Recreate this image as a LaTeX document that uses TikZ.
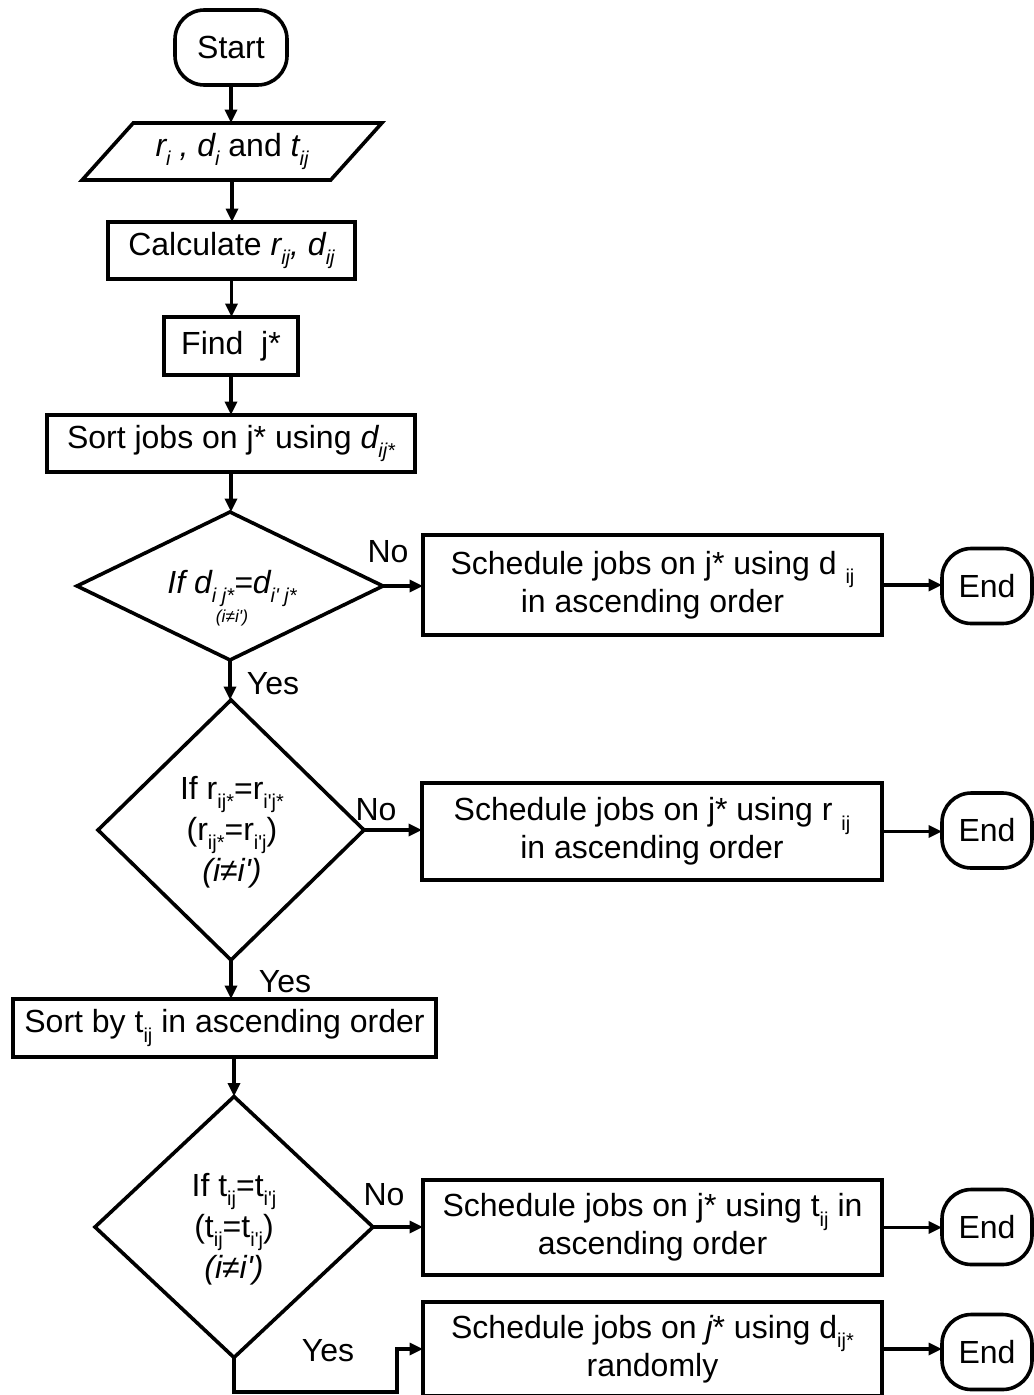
\documentclass[tikz,border=0pt]{standalone}
\usepackage{fontspec}
\setmainfont{Liberation Sans}
\usetikzlibrary{shapes.geometric,arrows.meta}
\newcommand\sbs[1]{\raisebox{-0.3em}{\fontsize{15}{15}\selectfont #1}}
\newcommand\pr{\textquotesingle}
\begin{document}
\begin{tikzpicture}[x=0.75pt,y=-0.75pt,
  every node/.style={font=\fontsize{24}{28.8}\selectfont, inner sep=0pt, outer sep=0pt},
  box/.style={draw, line width=2.7pt, rectangle},
  term/.style={draw, line width=2.7pt, rectangle, rounded corners=22pt},
  dec/.style={draw, line width=2.7pt, diamond},
  arr/.style={line width=2.4pt, -{Triangle[length=10pt,width=9pt]}}
]
\fill[white] (0,0) rectangle (1034,1395);
\useasboundingbox (0,0) rectangle (1034,1395);

% main column
\node[term, minimum width=84pt, minimum height=56.25pt] (start) at (231,47.5) {Start};
\node[draw, line width=2.7pt, trapezium, trapezium left angle=43, trapezium right angle=137,
      trapezium stretches=true, minimum width=225pt, minimum height=42.75pt] (inp) at (232,151.5)
      {\raisebox{-3pt}{{\itshape r\sbs{i} , d\sbs{i}} and {\itshape t\sbs{ij}}}};
\node[box, minimum width=185.25pt, minimum height=42.75pt] (calc) at (231.5,250.5) {Calculate {\itshape r\sbs{ij}, d\sbs{ij}}};
\node[box, minimum width=100.5pt, minimum height=43.5pt] (find) at (231,346) {Find\ \ j*};
\node[box, minimum width=276pt, minimum height=42.75pt] (sort1) at (231,443.5) {Sort jobs on j* using {\itshape d\sbs{ij*}}};

\node[dec, minimum width=229.5pt, minimum height=111pt] (dia1) at (230,586) {};
\node[align=center] (dia1t) at (232,598) {\itshape If d\sbs{i j*}=d\sbs{i\pr{} j*}\\[-7pt]{\fontsize{13}{15}\selectfont\itshape (i≠i\pr)}};

\node[dec, minimum width=199.5pt, minimum height=195pt] (dia2) at (231,830) {};
\node[align=center] (dia2t) at (232,832) {If r\sbs{ij*}=r\sbs{i\pr j*}\\[2pt](r\sbs{ij*}=r\sbs{i\pr j})\\[2pt]{\itshape (i≠i\pr)}};

\node[box, minimum width=317.25pt, minimum height=43.5pt] (sort2) at (224.5,1028) {Sort by t\sbs{ij} in ascending order};

\node[dec, minimum width=208.5pt, minimum height=195.75pt] (dia3) at (234,1227) {};
\node[align=center] (dia3t) at (234,1229) {If t\sbs{ij}=t\sbs{i\pr j}\\[2pt](t\sbs{ij}=t\sbs{i\pr j})\\[2pt]{\itshape (i≠i\pr)}};

% right column
\node[box, minimum width=344.25pt, minimum height=75pt, align=center] (box1) at (652.5,585) {Schedule jobs on j* using d \sbs{ij}\\in ascending order};
\node[box, minimum width=345pt, minimum height=72.75pt, align=center] (box2) at (652,831.5) {Schedule jobs on j* using r \sbs{ij}\\in ascending order};
\node[box, minimum width=344.25pt, minimum height=71.25pt, align=center] (box3) at (652.5,1227.5) {Schedule jobs on j* using t\sbs{ij} in\\ascending order};
\node[box, minimum width=344.25pt, minimum height=70.5pt, align=center] (box4) at (652.5,1349) {Schedule jobs on {\itshape j}* using d\sbs{ij*}\\randomly};

\node[term, minimum width=67.5pt, minimum height=56.25pt] (end1) at (987,586) {End};
\node[term, minimum width=67.5pt, minimum height=56.25pt] (end2) at (987,830.5) {End};
\node[term, minimum width=67.5pt, minimum height=56.25pt] (end3) at (987,1227) {End};
\node[term, minimum width=67.5pt, minimum height=56.25pt] (end4) at (987,1352) {End};

% labels
\node (no1) at (388,552) {No};
\node (no2) at (376,810) {No};
\node (no3) at (384,1195) {No};
\node (yes1) at (273,684) {Yes};
\node (yes2) at (285,982) {Yes};
\node (yes3) at (328,1351) {Yes};

% connectors
\draw[arr] (start.south) -- (start.south |- inp.north);
\draw[arr] (inp.south) -- (inp.south |- calc.north);
\draw[arr] (calc.south) -- (calc.south |- find.north);
\draw[arr] (find.south) -- (find.south |- sort1.north);
\draw[arr] (sort1.south) -- (sort1.south |- dia1.north);
\draw[arr] (dia1.south) -- (dia1.south |- dia2.north);
\draw[arr] (dia2.south) -- (dia2.south |- sort2.north);
\draw[arr] (sort2.south -| dia3.north) -- (dia3.north);

\draw[arr] (dia1.east) -- (dia1.east -| box1.west);
\draw[arr] (dia2.east) -- (dia2.east -| box2.west);
\draw[arr] (dia3.east) -- (dia3.east -| box3.west);
\draw[arr] (box1.east) -- (box1.east -| end1.west);
\draw[arr] (box2.east) -- (box2.east -| end2.west);
\draw[arr] (box3.east) -- (box3.east -| end3.west);
\draw[arr] (box4.east) -- (box4.east -| end4.west);

\coordinate (ybot) at (233,1392);
\coordinate (yturn) at (397,1392);
\draw[arr] (dia3.south) -- (dia3.south |- ybot) -- (yturn) -- (yturn |- box4.west) -- (box4.west);
\end{tikzpicture}
\end{document}
